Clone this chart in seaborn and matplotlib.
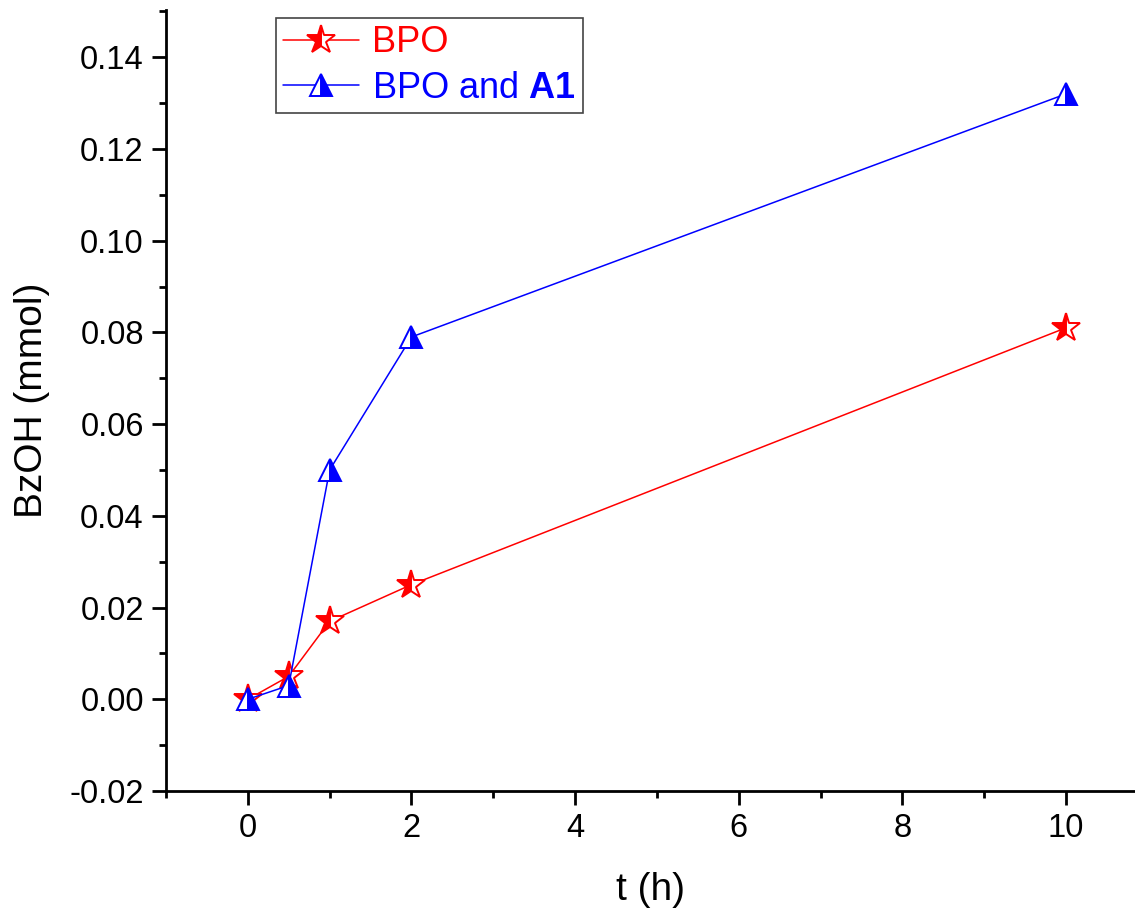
import matplotlib
matplotlib.use("Agg")
import matplotlib.pyplot as plt
import seaborn as sns
import pandas as pd
from matplotlib.ticker import MultipleLocator

t_h = [0, 0.5, 1, 2, 10]
bpo = [0.0, 0.005, 0.017, 0.025, 0.081]
bpo_a1 = [0.0, 0.003, 0.050, 0.079, 0.132]
y_ticks = [-0.02, 0, 0.02, 0.04, 0.06, 0.08, 0.10, 0.12, 0.14]
y_labels = ["-0.02", "0.00", "0.02", "0.04", "0.06", "0.08", "0.10", "0.12", "0.14"]

sns.set_theme(style="ticks")
plt.rcParams['font.family'] = ['Liberation Sans', 'DejaVu Sans']
plt.rcParams['mathtext.fontset'] = 'custom'
plt.rcParams['mathtext.bf'] = 'Liberation Sans:bold'
plt.rcParams['mathtext.rm'] = 'Liberation Sans'
plt.rcParams['text.color'] = 'black'
plt.rcParams['axes.labelcolor'] = 'black'

fig = plt.figure(figsize=(11.35, 9.21), dpi=100)
ax = fig.add_axes([166/1135, 1 - 791/921, (1135-166)/1135, (791-10)/921])

df1 = pd.DataFrame({"t": t_h, "v": bpo})
df2 = pd.DataFrame({"t": t_h, "v": bpo_a1})

sns.lineplot(data=df1, x="t", y="v", ax=ax, color="#ff0000", lw=1.1,
             marker="*", markersize=21, fillstyle="left",
             markerfacecolor="#ff0000", markerfacecoloralt="white",
             markeredgecolor="#ff0000", markeredgewidth=1.4, label="BPO")
sns.lineplot(data=df2, x="t", y="v", ax=ax, color="#0000ff", lw=1.1,
             marker="^", markersize=16, fillstyle="right",
             markerfacecolor="#0000ff", markerfacecoloralt="white",
             markeredgecolor="#0000ff", markeredgewidth=1.4, label=r"BPO and $\mathbf{A1}$")

ax.set_xlim(-1, (1135-248)/81.8)
ax.set_ylim(-0.02, 0.1503)
ax.xaxis.set_major_locator(MultipleLocator(2))
ax.xaxis.set_minor_locator(MultipleLocator(1))
ax.yaxis.set_minor_locator(MultipleLocator(0.01))
ax.set_yticks(y_ticks)
ax.set_yticklabels(y_labels)

for s in ["top", "right"]:
    ax.spines[s].set_visible(False)
for s in ["left", "bottom"]:
    ax.spines[s].set_linewidth(2.0)
    ax.spines[s].set_color("black")

ax.tick_params(which="major", direction="out", length=10, width=2.0, labelsize=23.5,
               colors="black", labelcolor="black", pad=6)
ax.tick_params(which="minor", direction="out", length=5, width=2.0, colors="black")

ax.set_xlabel("t (h)", fontsize=28, labelpad=20, color="black")
ax.set_ylabel("BzOH (mmol)", fontsize=28, labelpad=14, color="black")

leg = ax.legend(loc="upper left", bbox_to_anchor=((276-166)/969, (791-18)/781),
                borderaxespad=0, fancybox=False, fontsize=26, handlelength=2.1,
                handletextpad=0.35, borderpad=0.2, labelspacing=0.3, framealpha=1)
leg.get_frame().set_edgecolor("#444444")
leg.get_frame().set_linewidth(1.2)
for txt, c in zip(leg.get_texts(), ["#ff0000", "#0000ff"]):
    txt.set_color(c)

fig.savefig("out.png", dpi=100)
